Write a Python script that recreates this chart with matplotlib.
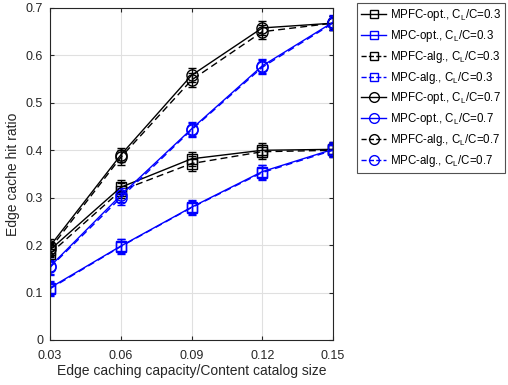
import numpy as np
import matplotlib
matplotlib.use("Agg")
import matplotlib.pyplot as plt
from matplotlib.lines import Line2D

plt.rcParams["font.family"] = ["Liberation Sans", "DejaVu Sans"]
plt.rcParams["mathtext.fontset"] = "custom"
plt.rcParams["mathtext.rm"] = "Liberation Sans"
plt.rcParams["mathtext.it"] = "Liberation Sans"

capacity = [0.03, 0.06, 0.09, 0.12, 0.15]

mpfc_opt_03 = [0.190, 0.322, 0.382, 0.400, 0.402]
mpc_opt_03 = [0.110, 0.198, 0.280, 0.355, 0.402]
mpfc_alg_03 = [0.182, 0.315, 0.372, 0.397, 0.400]
mpc_alg_03 = [0.108, 0.197, 0.279, 0.353, 0.400]
mpfc_opt_07 = [0.198, 0.390, 0.558, 0.658, 0.668]
mpc_opt_07 = [0.155, 0.305, 0.445, 0.578, 0.670]
mpfc_alg_07 = [0.192, 0.385, 0.548, 0.650, 0.668]
mpc_alg_07 = [0.153, 0.300, 0.443, 0.575, 0.668]
err = [0.015, 0.015, 0.015, 0.015, 0.015]

series = [
    (mpfc_opt_03, "k", "-", "s", "MPFC-opt., C$_\\mathregular{L}$/C=0.3"),
    (mpc_opt_03, "b", "-", "s", "MPC-opt., C$_\\mathregular{L}$/C=0.3"),
    (mpfc_alg_03, "k", "--", "s", "MPFC-alg., C$_\\mathregular{L}$/C=0.3"),
    (mpc_alg_03, "b", "--", "s", "MPC-alg., C$_\\mathregular{L}$/C=0.3"),
    (mpfc_opt_07, "k", "-", "o", "MPFC-opt., C$_\\mathregular{L}$/C=0.7"),
    (mpc_opt_07, "b", "-", "o", "MPC-opt., C$_\\mathregular{L}$/C=0.7"),
    (mpfc_alg_07, "k", "--", "o", "MPFC-alg., C$_\\mathregular{L}$/C=0.7"),
    (mpc_alg_07, "b", "--", "o", "MPC-alg., C$_\\mathregular{L}$/C=0.7"),
]

fig = plt.figure(figsize=(5.08, 3.85), dpi=100)
ax = fig.add_axes([50 / 508, 45 / 385, 283 / 508, 332 / 385])

handles = []
for vals, color, ls, mk, label in series:
    ax.errorbar(capacity, vals, yerr=err, color=color, ls=ls, lw=1.0,
                marker=mk, ms=8 if mk == "o" else 7, mfc="none", mew=1.0,
                capsize=3, elinewidth=1.0, dashes=(5, 3) if ls == "--" else None)
    handles.append(Line2D([], [], color=color, ls=ls, lw=1.0, marker=mk,
                          ms=7 if mk == "o" else 6, mfc="none", mew=1.0,
                          label=label))

ax.set_xlim(0.03, 0.15)
ax.set_ylim(0, 0.7)
ax.set_xticks(capacity)
ax.set_xticklabels(["0.03", "0.06", "0.09", "0.12", "0.15"])
ax.set_yticks(np.arange(0, 0.71, 0.1))
ax.set_yticklabels(["0", "0.1", "0.2", "0.3", "0.4", "0.5", "0.6", "0.7"])
ax.grid(True, color="#e0e0e0", lw=0.8)
ax.set_axisbelow(True)
ax.tick_params(direction="in", top=True, right=True, labelsize=9,
               length=3, colors="#262626")
ax.tick_params(axis="x", pad=7)
ax.tick_params(axis="y", pad=5)
for s in ax.spines.values():
    s.set_color("#262626")
    s.set_linewidth(0.8)

ax.set_xlabel("Edge caching capacity/Content catalog size", fontsize=10,
              color="#262626", labelpad=2)
ax.set_ylabel("Edge cache hit ratio", fontsize=10, color="#262626")

leg = ax.legend(handles=handles, loc="upper left",
                bbox_to_anchor=(357 / 508, 1 - 3 / 385),
                bbox_transform=fig.transFigure, fontsize=8.3, frameon=True,
                fancybox=False, edgecolor="#262626", handlelength=2.2,
                handletextpad=0.3, borderpad=0.35, labelspacing=0.42,
                borderaxespad=0)
leg.get_frame().set_linewidth(0.8)

fig.savefig("out.png", dpi=100)
